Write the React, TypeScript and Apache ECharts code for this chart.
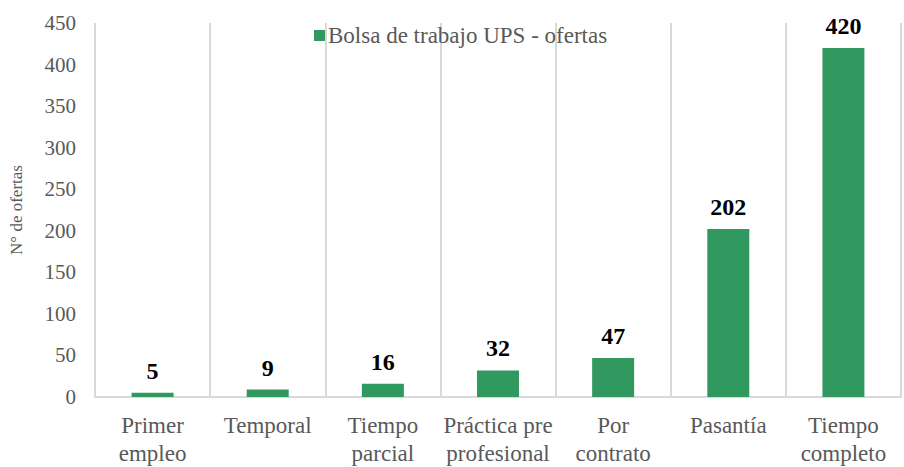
import React, { useEffect, useRef } from "react";
import * as echarts from "echarts";

const categories = [
  "Primer\nempleo",
  "Temporal",
  "Tiempo\nparcial",
  "Práctica pre\nprofesional",
  "Por\ncontrato",
  "Pasantía",
  "Tiempo\ncompleto",
];
const seriesName = "Bolsa de trabajo UPS - ofertas";
const ofertas = [5, 9, 16, 32, 47, 202, 420];
const yAxisTitle = "N° de ofertas";

const FONT = "Times New Roman, Liberation Serif, serif";

export default function App() {
  const ref = useRef<HTMLDivElement>(null);
  useEffect(() => {
    if (!ref.current) return;
    const chart = echarts.init(ref.current, undefined, { renderer: "svg" });
    chart.setOption({
      animation: false,
      backgroundColor: "#ffffff",
      textStyle: { fontFamily: FONT },
      legend: {
        data: [seriesName],
        left: 309,
        top: 19,
        itemWidth: 11,
        itemHeight: 11,
        icon: "rect",
        textStyle: { fontFamily: FONT, fontSize: 23, color: "#595959", padding: [0, 0, 0, -2] },
      },
      grid: { left: 92, right: 3, top: 23, bottom: 68, containLabel: false },
      xAxis: {
        type: "category",
        data: categories,
        boundaryGap: true,
        axisLine: { show: true, lineStyle: { color: "#d9d9d9", width: 2 } },
        axisTick: { show: false },
        splitLine: { show: true, interval: 0, lineStyle: { color: "#d9d9d9", width: 2 } },
        axisLabel: {
          interval: 0,
          margin: 14,
          fontFamily: FONT,
          fontSize: 23,
          lineHeight: 28,
          color: "#595959",
        },
      },
      yAxis: {
        type: "value",
        min: 0,
        max: 450,
        interval: 50,
        name: yAxisTitle,
        nameLocation: "middle",
        nameGap: 70,
        nameTextStyle: { fontFamily: FONT, fontSize: 17, color: "#595959" },
        axisLine: { show: false },
        axisTick: { show: false },
        splitLine: { show: false },
        axisLabel: { margin: 19, fontFamily: FONT, fontSize: 21, color: "#595959" },
      },
      series: [
        {
          name: seriesName,
          type: "bar",
          data: ofertas,
          barWidth: 42,
          itemStyle: { color: "#31995F" },
          label: {
            show: true,
            position: "top",
            distance: 10,
            fontFamily: FONT,
            fontSize: 24,
            fontWeight: "bold",
            color: "#000000",
          },
        },
      ],
    });
    return () => chart.dispose();
  }, []);
  return (
    <div
      ref={ref}
      style={{ position: "fixed", left: 0, top: 0, width: 904, height: 467 }}
    />
  );
}
